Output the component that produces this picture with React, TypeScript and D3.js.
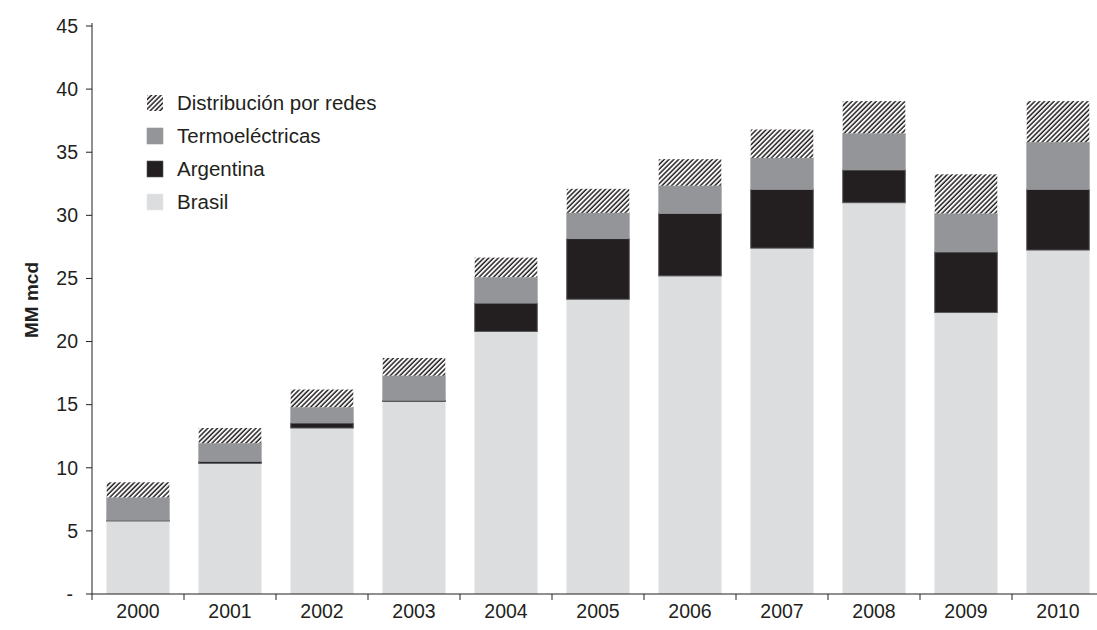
import React, { useRef, useEffect } from "react";
import * as d3 from "d3";

const years = ["2000", "2001", "2002", "2003", "2004", "2005", "2006", "2007", "2008", "2009", "2010"];
const brasil = [5.8, 10.35, 13.15, 15.25, 20.8, 23.35, 25.2, 27.4, 31.0, 22.3, 27.25];
const argentina = [0.05, 0.15, 0.4, 0.1, 2.25, 4.8, 4.95, 4.65, 2.6, 4.8, 4.8];
const termo = [1.8, 1.45, 1.25, 1.95, 2.05, 2.05, 2.2, 2.5, 2.9, 3.05, 3.75];
const redes = [1.2, 1.2, 1.4, 1.4, 1.55, 1.9, 2.1, 2.25, 2.55, 3.1, 3.25];
const yTicks = [0, 5, 10, 15, 20, 25, 30, 35, 40, 45];

const seriesKeys = ["brasil", "argentina", "termo", "redes"];
const seriesNames = ["Brasil", "Argentina", "Termoeléctricas", "Distribución por redes"];
const fills = ["#dcdddf", "#231f20", "#939598", "url(#hatch)"];
const strokes = ["#e6e7e8", "#58595b", "#9a9b9e", "none"];

const W = 1097;
const H = 630;
const FONT = "'Liberation Sans', Arial, sans-serif";
const INK = "#231f20";

const App = () => {
  const ref = useRef<SVGSVGElement>(null);

  useEffect(() => {
    const svg = d3.select(ref.current);
    svg.selectAll("*").remove();

    const defs = svg.append("defs");
    const pat = defs
      .append("pattern")
      .attr("id", "hatch")
      .attr("patternUnits", "userSpaceOnUse")
      .attr("width", 3.4)
      .attr("height", 3.4)
      .attr("patternTransform", "rotate(45)");
    pat.append("rect").attr("width", 3.4).attr("height", 3.4).attr("fill", "#ffffff");
    pat.append("line").attr("x1", 1).attr("y1", 0).attr("x2", 1).attr("y2", 3.4)
      .attr("stroke", INK).attr("stroke-width", 1.5);

    // plot area
    const left = 92, right = 1104, top = 26, bottom = 594;

    const x = d3.scaleBand().domain(years).range([left, right]).paddingInner(0.32).paddingOuter(0.16);
    const y = d3.scaleLinear().domain([0, 45]).range([bottom, top]);

    const table = years.map((yr, i) => ({
      year: yr,
      brasil: brasil[i],
      argentina: argentina[i],
      termo: termo[i],
      redes: redes[i],
    }));
    const stacked = d3.stack<any>().keys(seriesKeys)(table);

    stacked.forEach((layer, li) => {
      svg.append("g")
        .selectAll("rect")
        .data(layer)
        .join("rect")
        .attr("x", (d: any) => x(d.data.year)!)
        .attr("width", x.bandwidth())
        .attr("y", (d) => y(d[1]))
        .attr("height", (d) => Math.max(0.8, y(d[0]) - y(d[1])))
        .attr("fill", fills[li])
        .attr("stroke", strokes[li])
        .attr("stroke-width", li === 1 ? 1 : 0.6);
    });

    // y axis
    svg.append("line").attr("x1", left).attr("x2", left).attr("y1", top - 3).attr("y2", bottom)
      .attr("stroke", INK).attr("stroke-width", 1);
    const yg = svg.append("g");
    yTicks.forEach((t) => {
      yg.append("line").attr("x1", left - 6).attr("x2", left).attr("y1", y(t)).attr("y2", y(t))
        .attr("stroke", INK).attr("stroke-width", 1);
      yg.append("text")
        .attr("x", t === 0 ? 73 : 78)
        .attr("y", y(t))
        .attr("dy", "0.35em")
        .attr("text-anchor", "end")
        .attr("font-family", FONT)
        .attr("font-size", 19.5)
        .attr("fill", INK)
        .text(t === 0 ? "-" : String(t));
    });

    // x axis
    svg.append("line").attr("x1", left).attr("x2", right).attr("y1", bottom).attr("y2", bottom)
      .attr("stroke", INK).attr("stroke-width", 1);
    const step = x.step();
    const first = x(years[0])! - x.paddingOuter() * step;
    d3.range(years.length + 1).forEach((i) => {
      const bx = first + i * step;
      svg.append("line").attr("x1", bx).attr("x2", bx).attr("y1", bottom).attr("y2", bottom + 6)
        .attr("stroke", INK).attr("stroke-width", 1);
    });
    svg.append("g")
      .selectAll("text")
      .data(years)
      .join("text")
      .attr("x", (d) => x(d)! + x.bandwidth() / 2)
      .attr("y", 618)
      .attr("text-anchor", "middle")
      .attr("font-family", FONT)
      .attr("font-size", 19.5)
      .attr("fill", INK)
      .text((d) => d);

    // y label
    svg.append("text")
      .attr("transform", `translate(38, 300) rotate(-90)`)
      .attr("text-anchor", "middle")
      .attr("font-family", FONT)
      .attr("font-size", 19)
      .attr("font-weight", "bold")
      .attr("fill", INK)
      .text("MM mcd");

    // legend
    const legendOrder = [3, 2, 1, 0];
    legendOrder.forEach((si, i) => {
      const cy = 103 + i * 33;
      svg.append("rect")
        .attr("x", 147).attr("y", cy - 8).attr("width", 16).attr("height", 16)
        .attr("fill", fills[si])
        .attr("stroke", si === 3 ? "none" : strokes[si])
        .attr("stroke-width", 0.6);
      svg.append("text")
        .attr("x", 177).attr("y", cy)
        .attr("dy", "0.35em")
        .attr("font-family", FONT)
        .attr("font-size", 20.5)
        .attr("fill", INK)
        .text(seriesNames[si]);
    });
  }, []);

  return (
    <svg
      ref={ref}
      width={W}
      height={H}
      style={{ position: "absolute", left: 0, top: 0, background: "#fff" }}
    />
  );
};

export default App;
